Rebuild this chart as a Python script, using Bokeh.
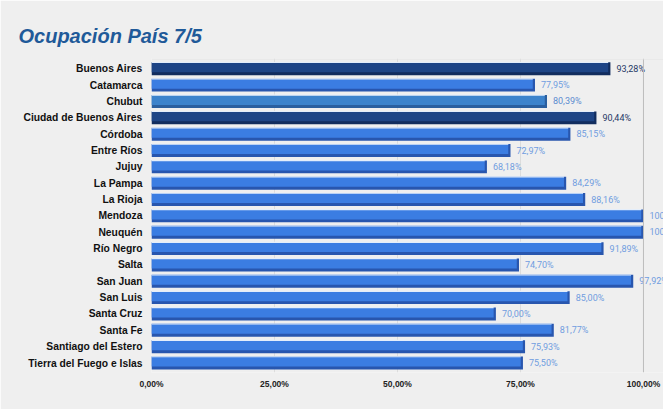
from bokeh.plotting import figure
from bokeh.models import ColumnDataSource, Range1d, FixedTicker, Span, Title
from bokeh.embed import file_html
from bokeh.resources import INLINE
from bokeh.core.properties import value

provinces = ["Buenos Aires", "Catamarca", "Chubut", "Ciudad de Buenos Aires", "Córdoba",
             "Entre Ríos", "Jujuy", "La Pampa", "La Rioja", "Mendoza", "Neuquén",
             "Río Negro", "Salta", "San Juan", "San Luis", "Santa Cruz", "Santa Fe",
             "Santiago del Estero", "Tierra del Fuego e Islas"]
occupancy = [93.28, 77.95, 80.39, 90.44, 85.15, 72.97, 68.18, 84.29, 88.16, 100.00, 100.00,
             91.89, 74.70, 97.92, 85.00, 70.00, 81.77, 75.93, 75.50]
x_ticks = [0, 25, 50, 75, 100]
x_tick_labels = ["0,00%", "25,00%", "50,00%", "75,00%", "100,00%"]

dark_set = {"Buenos Aires", "Ciudad de Buenos Aires"}
mid_set = {"Chubut"}

def face_color(n):
    if n in dark_set:
        return "#1e4586"
    if n in mid_set:
        return "#3c83cc"
    return "#3b7de2"

def side_color(n):
    if n in dark_set:
        return "#122d5e"
    if n in mid_set:
        return "#2a5f9f"
    return "#2856ae"

def label_color(n):
    if n in dark_set:
        return "#1f3866"
    if n in mid_set:
        return "#5b8cd0"
    return "#6f9de0"

idx = list(range(len(provinces)))
src = ColumnDataSource(dict(
    y=idx,
    y_face=[i - 0.09 for i in idx],
    y_hl=[i - 0.385 for i in idx],
    v=occupancy,
    v_face=[v - 0.45 for v in occupancy],
    face=[face_color(n) for n in provinces],
    side=[side_color(n) for n in provinces],
    lab_c=[label_color(n) for n in provinces],
    txt=[("%.2f%%" % v).replace(".", ",") for v in occupancy],
))

p = figure(width=663, height=409, output_backend="svg", toolbar_location=None,
           x_range=Range1d(0, 104.07), y_range=Range1d(18.58, -0.63),
           min_border_left=151, min_border_right=0, min_border_top=58, min_border_bottom=37)
p.background_fill_color = "#efefef"
p.border_fill_color = "#efefef"
p.outline_line_color = None

p.hbar(y="y", left=0, right="v", height=0.79, fill_color="side", line_color=None, source=src)
p.hbar(y="y_face", left=0, right="v_face", height=0.61, fill_color="face", line_color=None, source=src)
p.hbar(y="y_hl", left=0, right="v_face", height=0.07, fill_color="#e4eefb", line_color=None, source=src)

p.text(x="v", y="y", text="txt", x_offset=6, text_baseline="middle", text_align="left",
       text_font=value("Roboto"), text_font_size="9px", text_color="lab_c", source=src)

p.xgrid.ticker = FixedTicker(ticks=[25, 50, 75])
p.xgrid.grid_line_color = "#dcdcdc"
p.ygrid.grid_line_color = None
p.add_layout(Span(location=100, dimension="height", line_color="#bdbdbd", line_width=1))
p.add_layout(Span(location=-0.6, dimension="width", line_color="#e2e2e2", line_width=1))

p.xaxis.ticker = FixedTicker(ticks=x_ticks)
p.xaxis.major_label_overrides = {t: l for t, l in zip(x_ticks, x_tick_labels)}
p.xaxis.axis_line_color = None
p.xaxis.major_tick_line_color = None
p.xaxis.major_tick_out = 0
p.xaxis.major_tick_in = 0
p.xaxis.minor_tick_line_color = None
p.xaxis.major_label_text_font = "Liberation Sans"
p.xaxis.major_label_text_font_style = "bold"
p.xaxis.major_label_text_font_size = "8.5px"
p.xaxis.major_label_text_color = "#222222"
p.xaxis.major_label_standoff = 6

p.yaxis.ticker = FixedTicker(ticks=idx)
p.yaxis.major_label_overrides = {i: n for i, n in zip(idx, provinces)}
p.yaxis.axis_line_color = None
p.yaxis.major_tick_line_color = None
p.yaxis.major_tick_out = 0
p.yaxis.major_tick_in = 0
p.yaxis.minor_tick_line_color = None
p.yaxis.major_label_text_font = "Liberation Sans"
p.yaxis.major_label_text_font_style = "bold"
p.yaxis.major_label_text_font_size = "10.3px"
p.yaxis.major_label_text_color = "#111111"
p.yaxis.major_label_standoff = 9

p.title = Title(text="Ocupación País 7/5", align="left", offset=-133,
                text_font="Liberation Sans", text_font_style="bold italic",
                text_font_size="20px", text_color="#1f5a99", standoff=24)

open("out.html", "w").write(file_html(p, INLINE))
